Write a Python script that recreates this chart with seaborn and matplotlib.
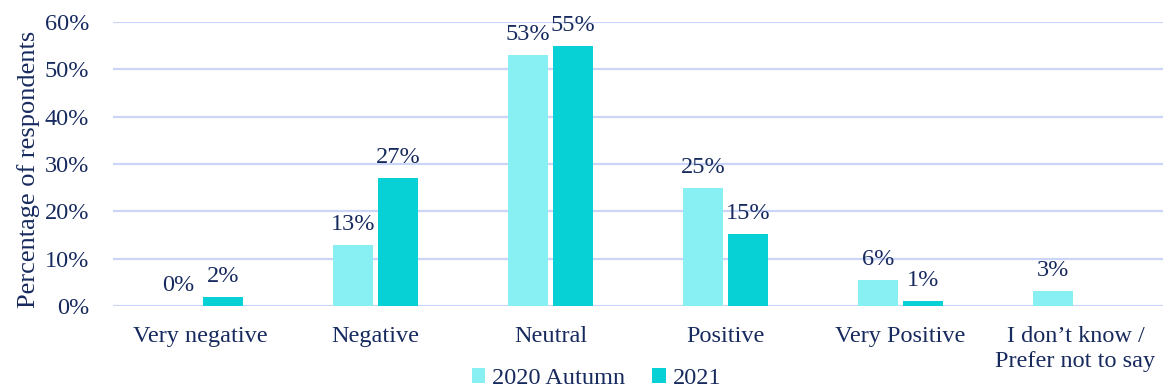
import numpy as np
import pandas as pd
import seaborn as sns
import matplotlib.pyplot as plt
from matplotlib.ticker import FuncFormatter

categories = ["Very negative", "Negative", "Neutral", "Positive", "Very Positive",
              "I don\u2019t know /\nPrefer not to say"]
series_names = ["2020 Autumn", "2021"]
values_2020 = [0, 13, 53, 25, 5.6, 3.2]
values_2021 = [1.9, 27, 55, 15.2, 1.1, np.nan]
y_ticks = [0, 10, 20, 30, 40, 50, 60]

colors = ["#88EFF2", "#07D1D5"]
text_color = "#172A5E"
grid_color = "#CBD5F8"

df = pd.DataFrame({
    "category": categories * 2,
    "series": [series_names[0]] * len(categories) + [series_names[1]] * len(categories),
    "value": values_2020 + values_2021,
})

sns.set_theme(style="white")
plt.rcParams["font.family"] = ["Liberation Serif", "DejaVu Serif"]
plt.rcParams["text.color"] = text_color

FS = 17.5

fig = plt.figure(figsize=(11.63, 3.9), dpi=100)
ax = fig.add_axes([0.097, 0.215, 0.903, 0.729])

sns.barplot(data=df, x="category", y="value", hue="series", order=categories,
            hue_order=series_names, palette=colors, width=0.515, gap=0.11,
            linewidth=0, saturation=1, ax=ax, zorder=3)

ax.set_xlim(-0.5, len(categories) - 0.5)
ax.set_ylim(0, 60)
ax.set_yticks(y_ticks)
ax.yaxis.set_major_formatter(FuncFormatter(lambda v, _: f"{v:.0f}%"))
ax.grid(axis="y", color=grid_color, linewidth=1.6, zorder=0)
ax.grid(axis="x", visible=False)
for s in ax.spines.values():
    s.set_visible(False)

ax.tick_params(axis="y", length=0, pad=17, labelsize=FS, labelcolor=text_color)
ax.tick_params(axis="x", length=0, pad=14, labelsize=FS, labelcolor=text_color)
for lbl in ax.get_xticklabels():
    lbl.set_linespacing(1.3)
ax.set_xlabel("")
ax.set_ylabel("Percentage of respondents", fontsize=19, color=text_color)
ax.yaxis.set_label_coords(-0.069, 0.48)

series_values = [values_2020, values_2021]
for container, vals in zip(ax.containers, series_values):
    present = [v for v in vals if not np.isnan(v)]
    labels = [f"{v:.0f}%" for v in present]
    ax.bar_label(container, labels=labels, padding=7, fontsize=FS,
                 color=text_color, clip_on=False)

handles, labels = ax.get_legend_handles_labels()
ax.legend(handles, labels, loc="lower center", bbox_to_anchor=(0.513, 0.0),
          bbox_transform=fig.transFigure, ncol=2, frameon=False, fontsize=FS,
          handlelength=0.55, handleheight=0.55, handletextpad=0.3, columnspacing=1.1,
          labelcolor=text_color, borderaxespad=0, borderpad=0.05)

fig.savefig("out.png", dpi=100)
